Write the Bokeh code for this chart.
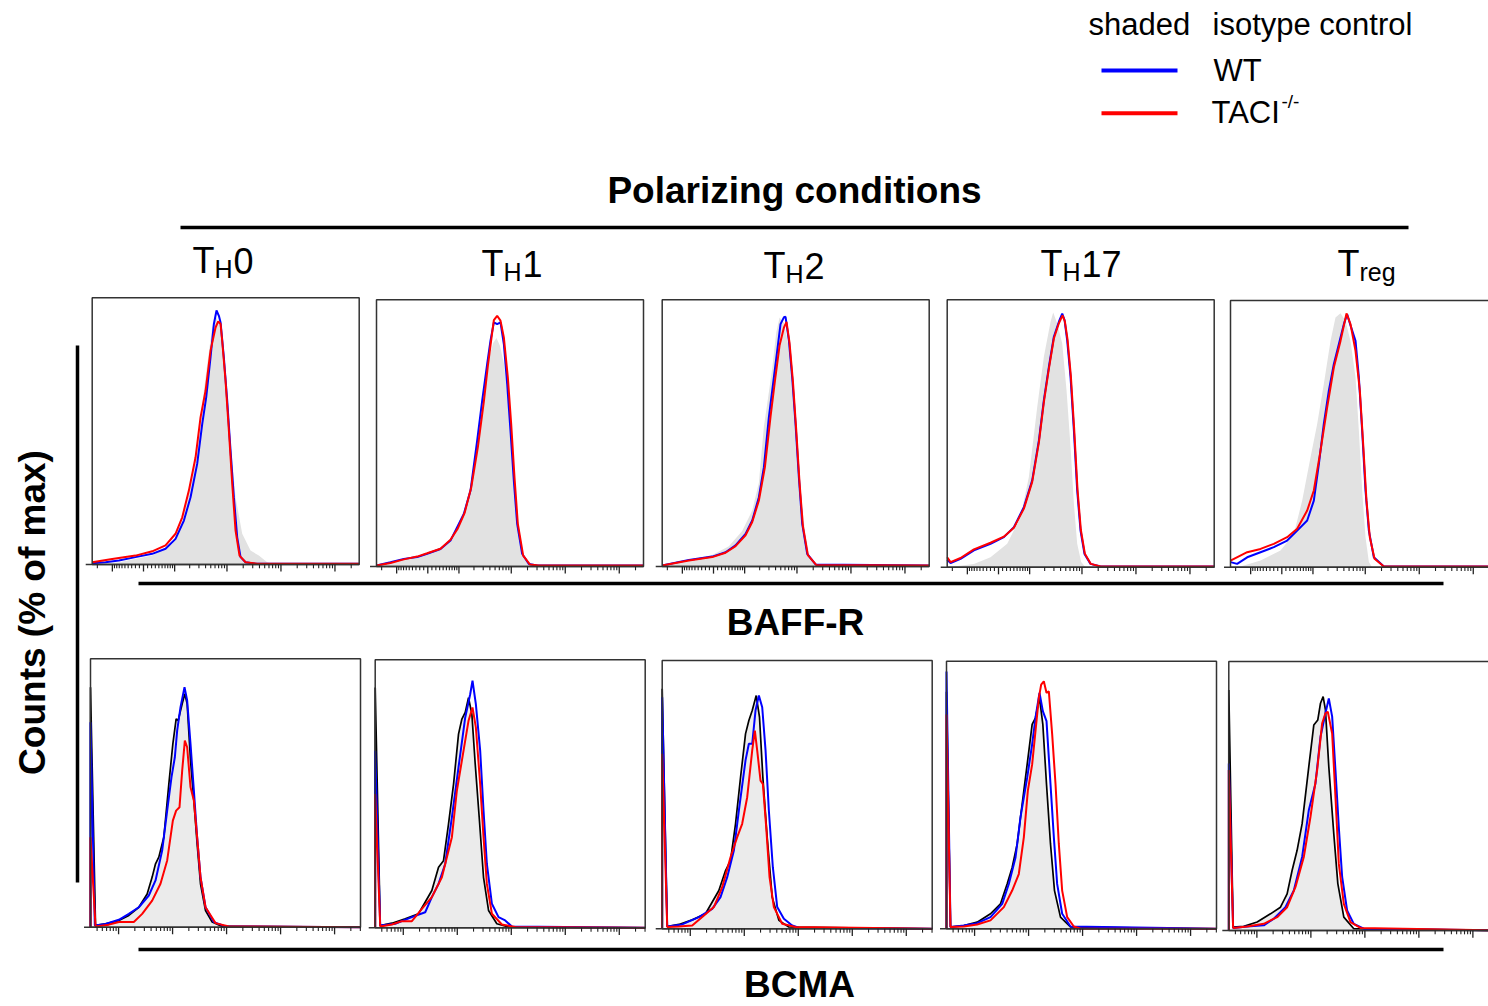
import math
from bokeh.plotting import figure
from bokeh.models import Range1d
from bokeh.core.properties import value
from bokeh.embed import file_html
from bokeh.resources import INLINE

# ---------------- data ----------------
# BAFF-R row: x in biexponential display decades, y in % of max
baffr_th0_iso_x = [0.505, 0.999, 1.616, 1.986, 2.172, 2.357, 2.511, 2.635, 2.727, 2.801, 2.882, 2.974, 3.067, 3.159, 3.283, 3.437, 3.591, 3.746, 3.900, 5.449]
baffr_th0_iso_y = [0, 0.9, 3.5, 8.1, 17.3, 34.3, 57.9, 78.9, 93.3, 97.3, 93.3, 75.0, 48.8, 26.5, 12.1, 5.5, 3.5, 0.9, 0, 0]
baffr_th0_wt_x = [0.505, 0.752, 0.999, 1.307, 1.616, 1.863, 2.048, 2.203, 2.326, 2.449, 2.542, 2.616, 2.696, 2.758, 2.807, 2.851, 2.882, 2.943, 3.005, 3.067, 3.128, 3.190, 3.252, 3.344, 3.530, 5.449]
baffr_th0_wt_y = [0.5, 0.9, 1.6, 2.9, 4.2, 6.2, 10.1, 17.3, 26.5, 39.6, 55.3, 65.8, 81.5, 94.7, 100.0, 97.9, 95.3, 81.5, 64.5, 44.8, 26.5, 10.7, 2.9, 0.9, 0.3, 0.3]
baffr_th0_taci_x = [0.505, 0.875, 1.307, 1.616, 1.863, 2.048, 2.172, 2.295, 2.419, 2.511, 2.604, 2.696, 2.789, 2.838, 2.882, 2.912, 2.974, 3.036, 3.098, 3.159, 3.233, 3.345, 3.561, 5.449]
baffr_th0_taci_y = [0.9, 2.2, 3.5, 5.2, 7.5, 12.1, 18.6, 29.1, 42.2, 57.9, 68.4, 84.2, 93.3, 95.7, 94.7, 88.1, 72.4, 52.7, 31.7, 13.4, 3.5, 0.9, 0.3, 0.3]

baffr_th1_iso_x = [0.505, 1.011, 1.443, 1.814, 1.999, 2.122, 2.246, 2.369, 2.493, 2.585, 2.666, 2.727, 2.789, 2.863, 2.925, 2.986, 3.060, 3.141, 3.233, 3.357, 5.449]
baffr_th1_iso_y = [0, 2.8, 5.0, 9.0, 16.0, 22.0, 32.0, 50.0, 68.0, 82.0, 88.0, 90.0, 87.0, 80.0, 68.0, 53.0, 33.0, 14.0, 4.0, 0.5, 0]
baffr_th1_wt_x = [0.505, 0.764, 1.011, 1.258, 1.443, 1.690, 1.875, 1.999, 2.122, 2.246, 2.369, 2.462, 2.554, 2.616, 2.678, 2.739, 2.801, 2.863, 2.925, 2.986, 3.048, 3.110, 3.202, 3.326, 3.480, 5.449]
baffr_th1_wt_y = [0.4, 1.7, 3.0, 3.7, 5.0, 6.9, 10.2, 15.5, 20.7, 29.9, 49.6, 65.3, 79.7, 88.9, 96.1, 95.4, 96.1, 87.6, 71.8, 53.5, 33.8, 16.8, 5.0, 1.0, 0.4, 0.4]
baffr_th1_taci_x = [0.505, 0.764, 1.011, 1.258, 1.443, 1.690, 1.875, 2.011, 2.135, 2.258, 2.382, 2.493, 2.567, 2.628, 2.678, 2.739, 2.801, 2.863, 2.937, 2.999, 3.060, 3.122, 3.221, 3.345, 3.511, 5.449]
baffr_th1_taci_y = [0.4, 1.4, 2.8, 3.9, 5.2, 7.0, 10.5, 15.0, 21.0, 31.0, 47.0, 65.0, 79.0, 89.0, 97.0, 98.7, 96.8, 90.2, 74.5, 56.1, 35.1, 16.8, 4.3, 0.8, 0.4, 0.4]

baffr_th2_iso_x = [0.505, 0.999, 1.431, 1.740, 1.986, 2.172, 2.295, 2.388, 2.449, 2.542, 2.616, 2.678, 2.758, 2.851, 2.925, 3.005, 3.079, 3.147, 3.233, 3.345, 5.449]
baffr_th2_iso_y = [0, 2.6, 4.5, 8.0, 14.0, 22.0, 33.0, 55.0, 64.0, 78.0, 92.0, 98.0, 96.0, 86.0, 72.0, 50.0, 28.0, 14.0, 4.0, 0.5, 0]
baffr_th2_wt_x = [0.505, 0.999, 1.431, 1.678, 1.863, 2.048, 2.172, 2.295, 2.388, 2.480, 2.573, 2.635, 2.696, 2.758, 2.789, 2.851, 2.912, 2.974, 3.036, 3.098, 3.190, 3.345, 5.449]
baffr_th2_wt_y = [0.4, 2.6, 3.9, 5.6, 8.3, 12.8, 18.1, 27.3, 39.1, 58.7, 74.5, 85.0, 95.4, 98.1, 98.3, 88.9, 74.5, 56.1, 35.1, 16.8, 5.0, 0.8, 0.4]
baffr_th2_taci_x = [0.505, 0.999, 1.431, 1.678, 1.863, 2.048, 2.172, 2.295, 2.406, 2.511, 2.604, 2.678, 2.758, 2.807, 2.863, 2.925, 2.986, 3.048, 3.110, 3.202, 3.357, 5.449]
baffr_th2_taci_y = [0.4, 2.4, 3.7, 5.4, 8.0, 12.3, 17.5, 26.0, 39.0, 59.0, 75.0, 87.0, 94.0, 96.3, 88.0, 73.0, 54.0, 33.0, 16.0, 4.5, 0.6, 0.4]

baffr_th17_iso_x = [0.505, 0.999, 1.307, 1.616, 1.863, 2.017, 2.172, 2.295, 2.419, 2.468, 2.542, 2.635, 2.715, 2.789, 2.851, 2.912, 2.986, 3.067, 5.449]
baffr_th17_iso_y = [0, 1.3, 3.9, 9.2, 19.7, 35.4, 62.9, 82.6, 96.4, 100.0, 95.7, 87.8, 69.4, 47.2, 24.9, 9.2, 2.0, 0, 0]
baffr_th17_wt_x = [0.505, 0.567, 0.752, 0.999, 1.307, 1.554, 1.740, 1.925, 2.079, 2.203, 2.295, 2.388, 2.480, 2.573, 2.635, 2.678, 2.727, 2.789, 2.851, 2.912, 2.974, 3.048, 3.159, 3.345, 5.449]
baffr_th17_wt_y = [2.9, 1.6, 3.3, 6.6, 9.2, 11.8, 15.7, 23.6, 34.1, 49.8, 65.6, 78.7, 90.5, 96.4, 99.6, 97.0, 89.1, 74.7, 53.7, 30.2, 14.4, 5.2, 1.3, 0.3, 0.3]
baffr_th17_taci_x = [0.505, 0.567, 0.752, 0.999, 1.307, 1.554, 1.740, 1.925, 2.079, 2.203, 2.295, 2.388, 2.480, 2.573, 2.641, 2.684, 2.733, 2.795, 2.857, 2.918, 2.980, 3.054, 3.165, 3.345, 5.449]
baffr_th17_taci_y = [3.9, 2.0, 3.6, 7.0, 9.6, 12.0, 15.5, 23.0, 33.5, 49.0, 64.8, 78.0, 89.8, 95.8, 98.9, 96.5, 89.5, 75.0, 54.0, 30.5, 14.6, 5.3, 1.3, 0.3, 0.3]

baffr_treg_iso_x = [0.505, 0.690, 1.061, 1.431, 1.678, 1.832, 1.986, 2.110, 2.233, 2.357, 2.449, 2.542, 2.635, 2.727, 2.820, 2.882, 2.943, 3.005, 3.067, 3.128, 5.449]
baffr_treg_iso_y = [0, 0.3, 2.6, 6.6, 13.1, 26.2, 43.2, 56.4, 72.1, 89.1, 98.3, 100.0, 96.9, 89.1, 74.7, 53.7, 30.2, 11.8, 2.0, 0, 0]
baffr_treg_wt_x = [0.505, 0.628, 0.814, 1.061, 1.307, 1.554, 1.740, 1.925, 2.048, 2.141, 2.233, 2.326, 2.419, 2.511, 2.604, 2.665, 2.739, 2.820, 2.882, 2.943, 3.005, 3.067, 3.159, 3.345, 5.449]
baffr_treg_wt_y = [2.0, 1.3, 3.9, 5.9, 7.9, 10.5, 14.4, 18.4, 26.2, 40.6, 56.4, 69.5, 80.0, 87.8, 95.7, 99.6, 94.4, 89.1, 74.7, 53.7, 30.2, 14.4, 3.9, 0.3, 0.3]
baffr_treg_taci_x = [0.505, 0.814, 1.061, 1.307, 1.554, 1.740, 1.925, 2.048, 2.172, 2.295, 2.419, 2.542, 2.653, 2.727, 2.820, 2.900, 2.962, 3.023, 3.085, 3.172, 3.345, 5.449]
baffr_treg_taci_y = [2.6, 5.9, 7.2, 9.2, 11.8, 15.1, 22.3, 30.2, 45.9, 62.9, 78.7, 89.1, 99.9, 95.7, 85.2, 69.5, 48.4, 26.2, 11.8, 3.3, 0.3, 0.3]

# BCMA row: x in log10 fluorescence, y in % of max (first two points: pile-up at axis minimum)
bcma_th0_iso_x = [0.48, 0.48, 0.573, 0.758, 1.005, 1.190, 1.375, 1.529, 1.622, 1.684, 1.745, 1.838, 1.931, 2.005, 2.066, 2.103, 2.178, 2.227, 2.270, 2.332, 2.394, 2.455, 2.517, 2.610, 2.733, 2.918, 5.48]
bcma_th0_iso_y = [0, 93.9, 0.7, 1.3, 2.6, 4.6, 7.8, 13.0, 19.6, 24.8, 27.4, 35.2, 56.1, 71.7, 81.5, 80.8, 87.4, 91.3, 87.4, 65.2, 49.6, 32.6, 17.0, 6.5, 2.0, 0.3, 0]
bcma_th0_wt_x = [0.48, 0.48, 0.560, 0.758, 1.005, 1.190, 1.375, 1.560, 1.684, 1.807, 1.900, 1.980, 2.042, 2.085, 2.147, 2.221, 2.270, 2.332, 2.394, 2.455, 2.517, 2.610, 2.764, 2.980, 5.48]
bcma_th0_wt_y = [0, 80.2, 0.7, 1.3, 2.9, 5.2, 7.8, 12.4, 18.3, 30.0, 45.6, 58.7, 66.5, 76.9, 86.1, 93.9, 88.7, 71.7, 53.5, 35.2, 19.6, 7.8, 2.0, 0.3, 0]
bcma_th0_taci_x = [0.48, 0.48, 0.573, 0.820, 1.005, 1.282, 1.437, 1.622, 1.776, 1.900, 2.005, 2.066, 2.128, 2.178, 2.227, 2.270, 2.332, 2.394, 2.455, 2.517, 2.610, 2.795, 3.042, 5.48]
bcma_th0_taci_y = [0, 35.2, 0.3, 1.0, 2.0, 2.0, 5.2, 10.4, 17.0, 26.1, 41.7, 45.6, 46.9, 61.3, 73.0, 70.4, 54.8, 49.6, 35.2, 19.6, 7.8, 1.6, 0.3, 0]

bcma_th1_iso_x = [0.48, 0.48, 0.573, 0.789, 1.036, 1.282, 1.529, 1.653, 1.745, 1.838, 1.931, 2.023, 2.085, 2.147, 2.208, 2.270, 2.332, 2.406, 2.486, 2.579, 2.733, 2.949, 5.48]
bcma_th1_iso_y = [0, 94.1, 0.9, 1.8, 3.5, 5.5, 14.6, 23.7, 26.3, 40.7, 56.3, 75.9, 81.8, 84.4, 90.2, 83.7, 64.2, 43.3, 19.8, 6.8, 1.6, 0.3, 0]
bcma_th1_wt_x = [0.48, 0.48, 0.573, 0.850, 1.159, 1.406, 1.529, 1.653, 1.776, 1.900, 2.023, 2.147, 2.239, 2.282, 2.344, 2.424, 2.486, 2.548, 2.641, 2.764, 2.887, 3.011, 5.48]
bcma_th1_wt_y = [0, 69.4, 0.9, 1.6, 4.2, 6.1, 12.0, 17.2, 25.0, 43.3, 62.9, 82.4, 91.5, 96.8, 87.6, 69.4, 45.9, 25.0, 9.4, 4.2, 2.9, 0.5, 0]
bcma_th1_taci_x = [0.48, 0.48, 0.573, 0.789, 0.974, 1.159, 1.344, 1.529, 1.715, 1.900, 1.992, 2.116, 2.208, 2.282, 2.344, 2.424, 2.486, 2.548, 2.641, 2.826, 3.073, 5.48]
bcma_th1_taci_y = [0, 52.4, 0.5, 1.3, 2.6, 2.6, 7.4, 12.0, 19.8, 35.5, 53.7, 69.4, 81.1, 86.3, 78.5, 56.3, 35.5, 17.2, 5.5, 1.3, 0.3, 0]

bcma_th2_iso_x = [0.48, 0.48, 0.573, 0.789, 1.036, 1.282, 1.529, 1.653, 1.745, 1.838, 1.931, 2.023, 2.085, 2.147, 2.221, 2.282, 2.344, 2.424, 2.517, 2.641, 2.826, 5.48]
bcma_th2_iso_y = [0, 93.9, 0.9, 1.7, 3.5, 5.9, 15.0, 22.8, 26.7, 41.1, 59.3, 76.3, 81.5, 85.4, 91.3, 82.8, 59.3, 35.9, 12.4, 3.3, 0.7, 0]
bcma_th2_wt_x = [0.48, 0.48, 0.573, 0.850, 1.159, 1.406, 1.560, 1.684, 1.807, 1.900, 2.023, 2.085, 2.147, 2.208, 2.270, 2.332, 2.394, 2.455, 2.529, 2.610, 2.733, 2.887, 3.011, 5.48]
bcma_th2_wt_y = [0, 90.6, 0.9, 1.7, 4.6, 7.8, 12.4, 20.2, 30.6, 46.3, 65.9, 72.4, 72.4, 85.4, 91.3, 86.7, 69.8, 46.3, 24.1, 8.5, 3.9, 1.3, 0.4, 0]
bcma_th2_taci_x = [0.48, 0.48, 0.573, 0.789, 1.036, 1.221, 1.437, 1.591, 1.745, 1.869, 1.961, 2.054, 2.147, 2.196, 2.239, 2.301, 2.344, 2.406, 2.468, 2.548, 2.702, 2.949, 5.48]
bcma_th2_taci_y = [0, 68.5, 0.7, 0.9, 1.3, 4.6, 8.5, 16.3, 28.0, 35.9, 41.1, 51.5, 69.8, 77.6, 69.8, 58.0, 56.7, 39.8, 20.2, 8.5, 2.0, 0.7, 0]

bcma_th17_iso_x = [0.48, 0.48, 0.554, 0.801, 1.048, 1.295, 1.480, 1.603, 1.696, 1.789, 1.912, 2.005, 2.066, 2.128, 2.202, 2.264, 2.332, 2.406, 2.480, 2.591, 2.776, 5.48]
bcma_th17_iso_y = [0, 93.0, 0.7, 1.3, 2.6, 5.9, 9.8, 17.6, 24.1, 33.3, 54.1, 69.8, 80.2, 82.8, 90.6, 80.2, 56.7, 33.3, 15.0, 4.6, 0.7, 0]
bcma_th17_wt_x = [0.48, 0.48, 0.554, 0.801, 1.048, 1.295, 1.511, 1.634, 1.758, 1.850, 1.974, 2.066, 2.128, 2.202, 2.264, 2.332, 2.406, 2.468, 2.529, 2.622, 2.776, 5.48]
bcma_th17_wt_y = [0, 101.0, 0.7, 1.3, 2.2, 4.6, 9.8, 17.6, 28.0, 43.7, 59.3, 72.4, 82.8, 92.6, 85.4, 81.5, 56.7, 35.9, 17.6, 5.9, 0.9, 0]
bcma_th17_taci_x = [0.48, 0.48, 0.554, 0.801, 1.048, 1.295, 1.542, 1.696, 1.819, 1.912, 1.986, 2.066, 2.128, 2.190, 2.233, 2.282, 2.332, 2.375, 2.437, 2.499, 2.560, 2.622, 2.715, 2.838, 2.961, 5.48]
bcma_th17_taci_y = [0, 84.1, 0.7, 0.9, 1.7, 3.3, 8.5, 15.0, 21.5, 35.9, 54.1, 64.5, 77.6, 90.6, 95.8, 97.1, 92.6, 93.2, 76.3, 56.7, 33.3, 15.0, 4.6, 0.9, 0, 0]

bcma_treg_iso_x = [0.48, 0.48, 0.560, 0.758, 1.005, 1.252, 1.437, 1.560, 1.653, 1.745, 1.838, 1.961, 2.054, 2.128, 2.178, 2.227, 2.270, 2.332, 2.424, 2.499, 2.610, 2.795, 5.48]
bcma_treg_iso_y = [0, 93.9, 1.3, 1.6, 3.3, 6.5, 9.1, 14.3, 23.5, 31.3, 41.7, 63.9, 80.2, 82.2, 88.7, 91.3, 86.1, 63.9, 37.8, 18.3, 5.2, 0.7, 0]
bcma_treg_wt_x = [0.48, 0.48, 0.560, 0.820, 1.128, 1.313, 1.529, 1.684, 1.838, 1.961, 2.085, 2.178, 2.270, 2.332, 2.394, 2.455, 2.517, 2.579, 2.671, 2.795, 2.980, 5.48]
bcma_treg_wt_y = [0, 65.2, 1.0, 1.6, 2.0, 4.6, 9.1, 15.6, 28.7, 46.9, 57.4, 75.6, 84.8, 90.6, 83.5, 62.6, 40.4, 20.9, 7.8, 2.6, 0.7, 0]
bcma_treg_taci_x = [0.48, 0.48, 0.560, 0.820, 1.128, 1.375, 1.560, 1.715, 1.869, 1.992, 2.116, 2.208, 2.270, 2.313, 2.394, 2.455, 2.517, 2.610, 2.733, 2.918, 5.48]
bcma_treg_taci_y = [0, 62.6, 1.0, 1.6, 2.6, 5.2, 9.1, 17.0, 28.7, 44.3, 62.6, 80.8, 84.8, 85.4, 76.9, 52.2, 26.1, 10.4, 3.3, 1.0, 0]

conditions_sub = ["H", "H", "H", "H", "reg"]
conditions_tail = ["0", "1", "2", "17", ""]
legend_labels = ["WT", "TACI"]
legend_sup = "-/-"
row_labels = ["BAFF-R", "BCMA"]
y_label = "Counts (% of max)"
top_title = "Polarizing conditions"

# axis ranges
TOP_X = (0.505, 5.449)   # biexponential display (decades)
BOT_X = (0.48, 5.48)     # log10
Y_MAX = 105

# ---------------- figure ----------------
FONT = value("Liberation Sans")
BLUE, RED = "#0000ff", "#ff0000"

p = figure(width=1488, height=1006, x_range=Range1d(0, 1488), y_range=Range1d(1006, 0),
           output_backend="svg", toolbar_location=None, min_border=0,
           x_axis_location=None, y_axis_location=None)
p.outline_line_color = None
p.grid.visible = False


def biex(v):
    return math.asinh(v / 57.0) / math.log(10) + 1.455


def top_ticks():
    major = [-100, 0, 100, 1e3, 1e4, 1e5]
    minor = [s * k * 10 ** n for n in (1, 2) for k in range(1, 10) for s in (-1, 1) if not (n == 2 and k == 1)]
    minor += [k * 10 ** n for n in (3, 4, 5) for k in range(2, 10)]
    mj = [biex(v) for v in major]
    mn = [biex(v) for v in minor]
    return ([d for d in mj if TOP_X[0] <= d <= TOP_X[1]],
            [d for d in mn if TOP_X[0] <= d <= TOP_X[1]])


def bot_ticks():
    mj = [float(n) for n in range(1, 6)]
    mn = [math.log10(k * 10 ** n) for n in range(0, 6) for k in range(2, 10)]
    return ([d for d in mj if BOT_X[0] <= d <= BOT_X[1]],
            [d for d in mn if BOT_X[0] <= d <= BOT_X[1]])


def draw_panel(left, top, bottom, width, xr, iso, wt, taci, ticks, bottom_row):
    sub = p.subplot(x_source=Range1d(*xr), y_source=Range1d(0, Y_MAX),
                    x_target=Range1d(left, left + width), y_target=Range1d(bottom, top))
    ix, iy = iso
    if bottom_row:
        sub.varea(x=ix[2:], y1=[0] * len(ix[2:]), y2=iy[2:], fill_color="#ebebeb")
        sub.line(ix, iy, line_color="black", line_width=1.7)
    else:
        sub.varea(x=ix, y1=[0] * len(ix), y2=iy, fill_color="#e2e2e2")
    sub.line(wt[0], wt[1], line_color=BLUE, line_width=2.0)
    sub.line(taci[0], taci[1], line_color=RED, line_width=2.0)
    sub.quad(left=[xr[0]], right=[xr[1]], bottom=[0], top=[Y_MAX], fill_color=None,
             line_color="#333333", line_width=1.5)
    sub.segment(x0=[xr[0] - 0.12], y0=[0], x1=[xr[1]], y1=[0], line_color="#333333", line_width=1.5)
    mj, mn = ticks
    sub.segment(x0=mj, y0=[0] * len(mj), x1=mj, y1=[-2.8] * len(mj), line_color="#222222", line_width=1.3)
    sub.segment(x0=mn, y0=[0] * len(mn), x1=mn, y1=[-1.5] * len(mn), line_color="#222222", line_width=1.1)


top_data = [
    ((baffr_th0_iso_x, baffr_th0_iso_y), (baffr_th0_wt_x, baffr_th0_wt_y), (baffr_th0_taci_x, baffr_th0_taci_y)),
    ((baffr_th1_iso_x, baffr_th1_iso_y), (baffr_th1_wt_x, baffr_th1_wt_y), (baffr_th1_taci_x, baffr_th1_taci_y)),
    ((baffr_th2_iso_x, baffr_th2_iso_y), (baffr_th2_wt_x, baffr_th2_wt_y), (baffr_th2_taci_x, baffr_th2_taci_y)),
    ((baffr_th17_iso_x, baffr_th17_iso_y), (baffr_th17_wt_x, baffr_th17_wt_y), (baffr_th17_taci_x, baffr_th17_taci_y)),
    ((baffr_treg_iso_x, baffr_treg_iso_y), (baffr_treg_wt_x, baffr_treg_wt_y), (baffr_treg_taci_x, baffr_treg_taci_y)),
]
bot_data = [
    ((bcma_th0_iso_x, bcma_th0_iso_y), (bcma_th0_wt_x, bcma_th0_wt_y), (bcma_th0_taci_x, bcma_th0_taci_y)),
    ((bcma_th1_iso_x, bcma_th1_iso_y), (bcma_th1_wt_x, bcma_th1_wt_y), (bcma_th1_taci_x, bcma_th1_taci_y)),
    ((bcma_th2_iso_x, bcma_th2_iso_y), (bcma_th2_wt_x, bcma_th2_wt_y), (bcma_th2_taci_x, bcma_th2_taci_y)),
    ((bcma_th17_iso_x, bcma_th17_iso_y), (bcma_th17_wt_x, bcma_th17_wt_y), (bcma_th17_taci_x, bcma_th17_taci_y)),
    ((bcma_treg_iso_x, bcma_treg_iso_y), (bcma_treg_wt_x, bcma_treg_wt_y), (bcma_treg_taci_x, bcma_treg_taci_y)),
]

# panel placement (left, top, bottom) in page pixels
top_boxes = [(91.7, 297.3, 564), (376, 299.3, 566), (661.7, 299.3, 566), (946.7, 299.3, 566.7), (1230, 300, 566.7)]
bot_boxes = [(90, 658.3, 926.7), (374.7, 659.3, 927.3), (661.7, 660, 928.3), (946, 660.7, 928.3), (1228.3, 661, 930)]

tt = top_ticks()
bt = bot_ticks()
for (l, t, b), (iso, wt, taci) in zip(top_boxes, top_data):
    draw_panel(l, t, b, 267, TOP_X, iso, wt, taci, tt, False)
for (l, t, b), (iso, wt, taci) in zip(bot_boxes, bot_data):
    draw_panel(l, t, b, 270, BOT_X, iso, wt, taci, bt, True)

# decorations: separator lines
p.segment(x0=[180, 138, 138, 77], y0=[227, 583, 949, 345], x1=[1408, 1443, 1443, 77], y1=[227, 583, 949, 882],
          line_color="black", line_width=3.5)

# titles
p.text(x=[794], y=[190], text=[top_title], text_font=FONT, text_font_size="37px", text_font_style="bold",
       text_align="center", text_baseline="alphabetic", text_color="black")
p.text(x=[795, 799], y=[622, 984], text=row_labels, text_font=FONT, text_font_size="37px",
       text_font_style="bold", text_align="center", text_baseline="alphabetic", text_color="black")
p.text(x=[32], y=[612], text=[y_label], text_font=FONT, text_font_size="37px", text_font_style="bold",
       text_align="center", text_baseline="middle", angle=math.pi / 2, text_color="black")

# column headers T_H0 ... T_reg
hx = [192, 481, 763, 1040, 1337]
hy = [260, 263, 265, 263, 263]
p.text(x=hx, y=hy, text=["T"] * 5, text_font=FONT, text_font_size="36px", text_baseline="alphabetic",
       text_color="black")
p.text(x=[x + 22 for x in hx], y=[y + 8 for y in hy], text=conditions_sub, text_font=FONT,
       text_font_size="25px", text_baseline="alphabetic", text_color="black")
p.text(x=[x + 41 for x in hx], y=hy, text=conditions_tail, text_font=FONT, text_font_size="36px",
       text_baseline="alphabetic", text_color="black")

# legend
p.text(x=[1088, 1212], y=[24, 24], text=["shaded", "isotype control"], text_font=FONT, text_font_size="31px",
       text_baseline="alphabetic", text_color="black")
p.segment(x0=[1101, 1101], y0=[70, 112.7], x1=[1177, 1177], y1=[70, 112.7], line_color=[BLUE, RED], line_width=4)
p.text(x=[1213, 1211], y=[70, 112], text=legend_labels, text_font=FONT, text_font_size="31px",
       text_baseline="alphabetic", text_color="black")
p.text(x=[1281], y=[101], text=[legend_sup], text_font=FONT, text_font_size="19px",
       text_baseline="alphabetic", text_color="black")

open("out.html", "w").write(file_html(p, INLINE))
